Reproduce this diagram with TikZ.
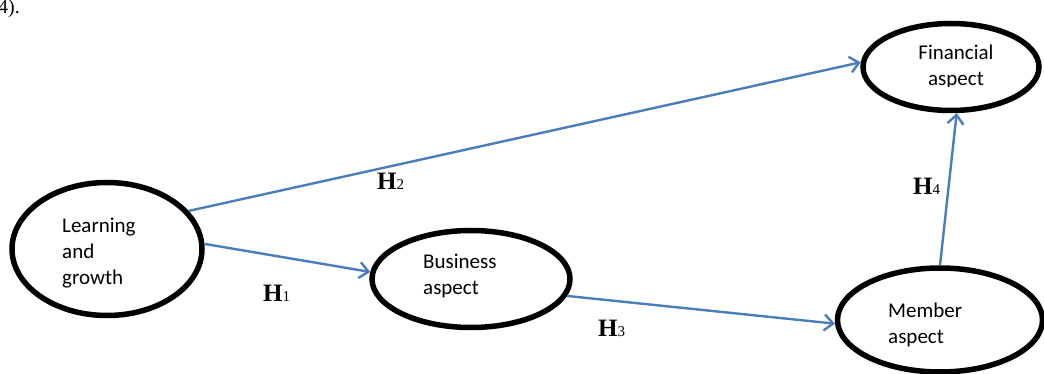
\documentclass[tikz,border=0pt]{standalone}
\usepackage{fontspec}
\setmainfont{Liberation Serif}
\newfontfamily\calib{Carlito}
\usetikzlibrary{shapes.geometric,arrows.meta}
\definecolor{arrowblue}{HTML}{4A7EBB}
\begin{document}
\begin{tikzpicture}[x=1pt,y=-1pt,
  aspect/.style={ellipse, draw=black, line width=5.5pt, inner sep=0pt, outer sep=2.75pt},
  lbl/.style={anchor=base west, inner sep=0pt, align=left, font=\calib\fontsize{21}{26}\selectfont},
  link/.style={draw=arrowblue, line width=2.4pt, -{Straight Barb[length=9pt,width=16pt,line width=2.4pt]}},
  hyp/.style={anchor=base west, inner sep=0pt, font=\fontsize{25}{25}\selectfont\bfseries}
]
\useasboundingbox (0,0) rectangle (1044,374);
\clip (0,0) rectangle (1044,374);

% ellipses
\node[aspect, minimum width=190pt, minimum height=133pt] (learn) at (107,249) {};
\node[aspect, minimum width=198pt, minimum height=97pt] (bus) at (471,279) {};
\node[aspect, minimum width=176pt, minimum height=87pt] (fin) at (951,67) {};
\node[aspect, minimum width=205pt, minimum height=104pt] (mem) at (940,320) {};

% texts (anchor at baseline of last line)
\node[lbl] (learnT) at (62,284) {Learning\\and\\growth};
\node[lbl] (busT) at (423,294) {Business\\aspect};
\node[lbl] (memT) at (888,343) {Member\\aspect};
\begin{scope}
  \clip (890,30) rectangle (1020,87);
  \node[lbl, align=center, anchor=base] (finT) at (956,86) {Financial\\aspect};
\end{scope}

% fragment of preceding text
\node[anchor=base west, inner sep=0pt, font=\fontsize{20}{20}\selectfont] (frag) at (-2,14) {4).};

% connectors
\draw[link] (learn.25.7) -- (fin.177.5);
\draw[link] (learn.3.5) -- (bus.176);
\draw[link] (bus.-10.6) -- (mem.-178);
\draw[link] (mem.90) -- (fin.-83);

% hypothesis labels
\node[hyp] (h1) at (263,301) {H\textnormal{\fontsize{15}{15}\selectfont 1}};
\node[hyp] (h2) at (377,190) {H\textnormal{\fontsize{15}{15}\selectfont 2}};
\node[hyp] (h3) at (598,336) {H\textnormal{\fontsize{15}{15}\selectfont 3}};
\node[hyp] (h4) at (913,195) {H\textnormal{\fontsize{15}{15}\selectfont 4}};
\end{tikzpicture}
\end{document}
